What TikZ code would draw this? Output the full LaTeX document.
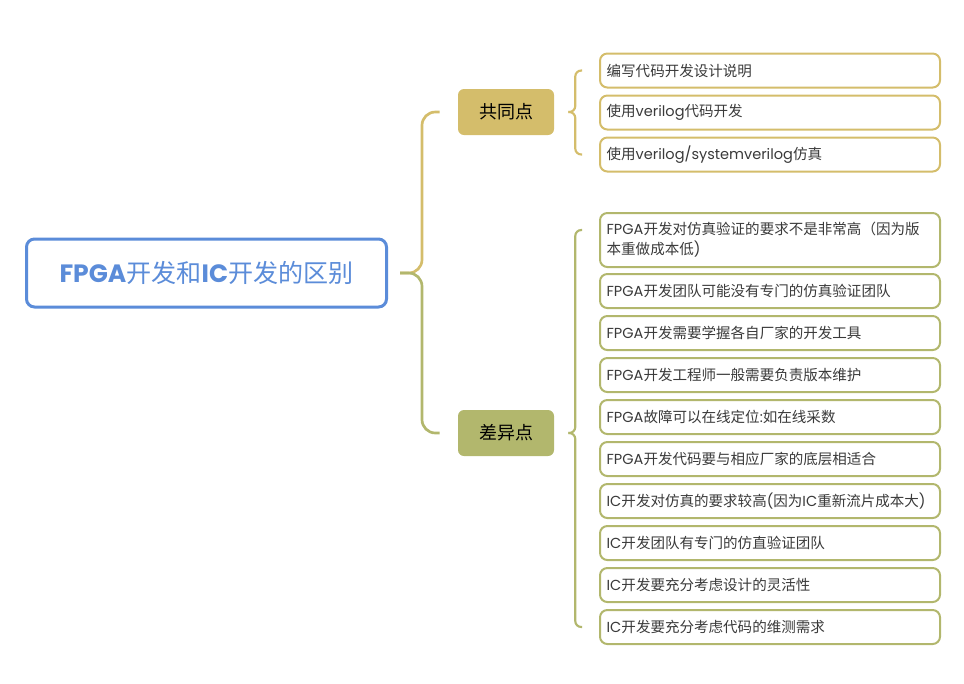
\documentclass[tikz,border=0pt]{standalone}
\usepackage{fontspec}
\setmainfont{Noto Sans CJK SC}
\newfontfamily\cjkf{Noto Sans CJK SC}
\newfontfamily\latf{Poppins}
\newcommand\latn[1]{{\latf #1}}
\usetikzlibrary{calc}
\definecolor{rootblue}{HTML}{5B8CD9}
\definecolor{goldc}{HTML}{D4BD6B}
\definecolor{olivec}{HTML}{B2B76D}
\definecolor{leaftext}{HTML}{3A3A3A}
\tikzset{
  rootbox/.style={draw=rootblue, line width=2.25pt, rounded corners=6pt, fill=white,
    minimum width=270pt, minimum height=51pt, text=rootblue,
    font=\cjkf\fontsize{18.8}{22}\selectfont},
  catbox/.style={rounded corners=4.5pt, minimum width=72pt, minimum height=34.5pt,
    text=black, font=\cjkf\fontsize{13.5}{16}\selectfont, inner sep=0pt},
  leafbox/.style={line width=1.5pt, rounded corners=5.5pt, fill=white, anchor=west,
    text width=245pt, inner xsep=5pt, inner ysep=3pt, minimum height=25.5pt, align=left,
    text=leaftext, font=\cjkf\fontsize{10.9}{15}\selectfont},
  goldleaf/.style={leafbox, draw=goldc},
  oliveleaf/.style={leafbox, draw=olivec},
  goldline/.style={draw=goldc, line width=2pt, rounded corners=10pt},
  oliveline/.style={draw=olivec, line width=2pt, rounded corners=10pt},
  goldsmall/.style={draw=goldc, line width=1.6pt, rounded corners=4.5pt},
  olivesmall/.style={draw=olivec, line width=1.6pt, rounded corners=4.5pt},
}
\begin{document}
\begin{tikzpicture}[x=0.75pt, y=-0.75pt]
\useasboundingbox (0,0) rectangle (964,683);

\node[rootbox] (root) at (206.5,273) {\latn{\bfseries FPGA}开发和\latn{\bfseries IC}开发的区别};

\node[catbox, fill=goldc] (c1) at (506,112) {共同点};
\node[catbox, fill=olivec] (c2) at (506,433) {差异点};

% common leaves
\node[goldleaf] (a1) at (599,70.5) {编写代码开发设计说明};
\node[goldleaf] (a2) at (599,112.5) {使用\latn{verilog}代码开发};
\node[goldleaf] (a3) at (599,154.5) {使用\latn{verilog/systemverilog}仿真};

% difference leaves
\node[oliveleaf, minimum height=40.5pt] (b1) at (599,240) {\latn{FPGA}开发对仿真验证的要求不是非常高（因为版\\本重做成本低\latn{)}};
\node[oliveleaf] (b2) at (599,291) {\latn{FPGA}开发团队可能没有专门的仿真验证团队};
\node[oliveleaf] (b3) at (599,333) {\latn{FPGA}开发需要学握各自厂家的开发工具};
\node[oliveleaf] (b4) at (599,375) {\latn{FPGA}开发工程师一般需要负责版本维护};
\node[oliveleaf] (b5) at (599,417) {\latn{FPGA}故障可以在线定位\latn{:}如在线采数};
\node[oliveleaf] (b6) at (599,459) {\latn{FPGA}开发代码要与相应厂家的底层相适合};
\node[oliveleaf] (b7) at (599,501) {\latn{IC}开发对仿真的要求较高\latn{(}因为\latn{IC}重新流片成本大\latn{)}};
\node[oliveleaf] (b8) at (599,543) {\latn{IC}开发团队有专门的仿直验证团队};
\node[oliveleaf] (b9) at (599,585) {\latn{IC}开发要充分考虑设计的灵活性};
\node[oliveleaf] (b10) at (599,627) {\latn{IC}开发要充分考虑代码的维测需求};

% main brace
\coordinate (tip) at ([xshift=9pt]root.east);
\draw[goldline] (tip) -- ++(22,0) |- ([xshift=-13.5pt]c1.west);
\draw[oliveline] (tip) -- ++(22,0) |- ([xshift=-13.5pt]c2.west);

% small braces
\coordinate (t1) at ([xshift=10.5pt]c1.east);
\draw[goldsmall] (t1) -- ++(7,0) |- ([xshift=-12.75pt]a1.west);
\draw[goldsmall] (t1) -- ++(7,0) |- ([xshift=-12.75pt]a3.west);

\coordinate (t2) at ([xshift=10.5pt]c2.east);
\draw[olivesmall] (t2) -- ++(7,0) |- ([xshift=-12.75pt,yshift=7.5pt]b1.west);
\draw[olivesmall] (t2) -- ++(7,0) |- ([xshift=-12.75pt]b10.west);
\end{tikzpicture}
\end{document}
